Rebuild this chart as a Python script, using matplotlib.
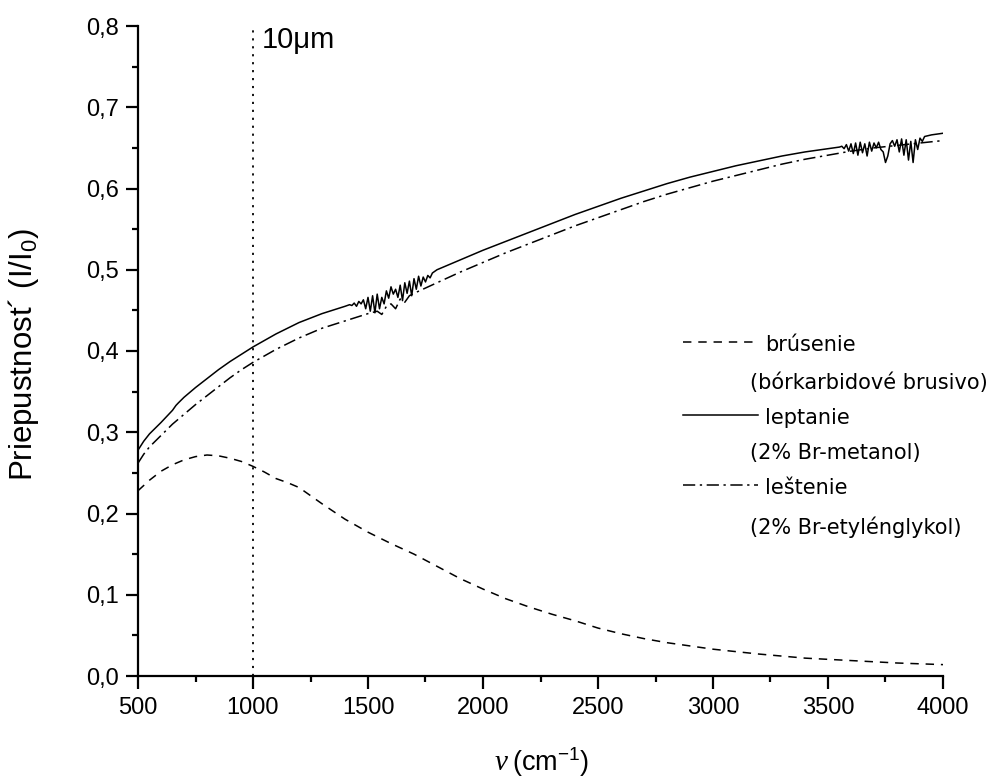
import matplotlib
matplotlib.use("Agg")
import matplotlib.pyplot as plt
from matplotlib.lines import Line2D

# ---- data -------------------------------------------------------------
# brúsenie (ground surface)
nu_brus = [500, 550, 600, 650, 700, 750, 800, 850, 900, 950, 1000, 1050, 1100,
           1150, 1200, 1300, 1400, 1500, 1600, 1700, 1800, 1900, 2000, 2100,
           2200, 2300, 2400, 2500, 2600, 2700, 2800, 2900, 3000, 3200, 3400,
           3600, 3800, 4000]
t_brus = [0.228, 0.241, 0.252, 0.260, 0.266, 0.270, 0.272, 0.271, 0.268, 0.264,
          0.258, 0.251, 0.243, 0.238, 0.232, 0.212, 0.193, 0.177, 0.163, 0.150,
          0.135, 0.120, 0.107, 0.095, 0.085, 0.076, 0.068, 0.059, 0.052, 0.046,
          0.041, 0.037, 0.033, 0.027, 0.022, 0.019, 0.016, 0.014]

# leptanie (etched surface)
nu_lept = [500, 525, 550, 600, 650, 665, 675, 700, 750, 800, 850, 900, 950,
           1000, 1100, 1200, 1300, 1400,
           1420, 1430, 1440, 1450, 1460, 1470, 1480, 1490, 1500, 1510, 1520,
           1530, 1540, 1550, 1560, 1570, 1580, 1590, 1600, 1610, 1620, 1630,
           1640, 1650, 1660, 1670, 1680, 1690, 1700, 1710, 1720, 1730, 1740,
           1750, 1760, 1770, 1780, 1800,
           1900, 2000, 2100, 2200, 2300, 2400, 2500, 2600, 2700, 2800, 2900,
           3000, 3100, 3200, 3300, 3400, 3500,
           3550, 3560, 3570, 3580, 3590, 3600, 3610, 3620, 3630, 3640, 3650,
           3660, 3670, 3680, 3690, 3700, 3710, 3720, 3730, 3740, 3750, 3760,
           3770, 3780, 3790, 3800, 3810, 3820, 3830, 3840, 3850, 3860, 3870,
           3880, 3890, 3900, 3910, 3920, 3950, 4000]
t_lept = [0.278, 0.289, 0.298, 0.312, 0.327, 0.333, 0.336, 0.343, 0.355, 0.366,
          0.377, 0.387, 0.396, 0.405, 0.421, 0.435, 0.446, 0.455,
          0.457, 0.456, 0.459, 0.455, 0.461, 0.458, 0.463, 0.452, 0.466, 0.449,
          0.468, 0.447, 0.470, 0.452, 0.466, 0.458, 0.474, 0.465, 0.479, 0.470,
          0.476, 0.466, 0.481, 0.462, 0.484, 0.471, 0.486, 0.468, 0.489, 0.476,
          0.492, 0.480, 0.491, 0.485, 0.493, 0.490, 0.496, 0.500,
          0.512, 0.524, 0.535, 0.546, 0.557, 0.568, 0.578, 0.588, 0.597, 0.606,
          0.614, 0.621, 0.628, 0.634, 0.640, 0.645, 0.649,
          0.651, 0.652, 0.649, 0.654, 0.646, 0.655, 0.643, 0.656, 0.641, 0.657,
          0.644, 0.655, 0.640, 0.657, 0.646, 0.656, 0.650, 0.657, 0.648, 0.645,
          0.632, 0.640, 0.655, 0.659, 0.652, 0.660, 0.645, 0.661, 0.641, 0.660,
          0.635, 0.658, 0.632, 0.660, 0.648, 0.662, 0.658, 0.664, 0.666, 0.668]

# leštenie (polished surface)
nu_lest = [500, 525, 550, 600, 650, 700, 750, 800, 850, 900, 950, 1000, 1100,
           1200, 1300, 1400, 1500, 1540, 1560, 1580, 1600, 1620, 1640, 1660,
           1680, 1700, 1800, 1900, 2000, 2100, 2200, 2300, 2400, 2500, 2600,
           2700, 2800, 2900, 3000, 3100, 3200, 3300, 3400, 3500, 3600, 3700,
           3800, 3900, 4000]
t_lest = [0.262, 0.273, 0.282, 0.296, 0.310, 0.322, 0.334, 0.345, 0.356, 0.367,
          0.377, 0.386, 0.402, 0.416, 0.428, 0.437, 0.446, 0.449, 0.445, 0.455,
          0.458, 0.452, 0.464, 0.460, 0.468, 0.471, 0.484, 0.497, 0.509, 0.521,
          0.532, 0.543, 0.554, 0.564, 0.574, 0.584, 0.593, 0.601, 0.609, 0.616,
          0.623, 0.630, 0.636, 0.641, 0.646, 0.650, 0.653, 0.656, 0.659]

x_ticks = [500, 1000, 1500, 2000, 2500, 3000, 3500, 4000]
y_ticks = [0.0, 0.1, 0.2, 0.3, 0.4, 0.5, 0.6, 0.7, 0.8]
y_tick_labels = ["0,0", "0,1", "0,2", "0,3", "0,4", "0,5", "0,6", "0,7", "0,8"]
marker_nu = 1000  # 10 µm

legend_rows = [
    ("brúsenie", "(bórkarbidové brusivo)"),
    ("leptanie", "(2% Br-metanol)"),
    ("leštenie", "(2% Br-etylénglykol)"),
]

# ---- figure -----------------------------------------------------------
W, H = 991, 780
plt.rcParams["mathtext.fontset"] = "custom"
plt.rcParams["mathtext.rm"] = "Liberation Sans"
plt.rcParams["mathtext.it"] = "Liberation Sans:italic"
plt.rcParams["mathtext.bf"] = "Liberation Sans:bold"

fig = plt.figure(figsize=(W / 100, H / 100), dpi=100)
ax = fig.add_axes([138 / W, 104 / H, 805 / W, 650 / H])


def fpos(x, y):
    return x / W, 1 - y / H


dash_style = (0, (5.5, 4.5))
dashdot_style = (0, (8, 3, 1.5, 3))
line_kw = dict(color="black", lw=1.1)

ax.plot(nu_brus, t_brus, linestyle=dash_style, **line_kw)
ax.plot(nu_lept, t_lept, linestyle="-", **line_kw)
ax.plot(nu_lest, t_lest, linestyle=dashdot_style, **line_kw)
ax.axvline(marker_nu, color="black", lw=1.3, linestyle=(0, (1.2, 3.2)))

ax.set_xlim(500, 4000)
ax.set_ylim(0.0, 0.8)
ax.set_xticks(x_ticks)
ax.set_xticklabels([str(v) for v in x_ticks])
ax.set_yticks(y_ticks)
ax.set_yticklabels(y_tick_labels)
ax.set_xticks([v + 250 for v in x_ticks[:-1]], minor=True)
ax.set_yticks([v + 0.05 for v in y_ticks[:-1]], minor=True)

for side in ("top", "right"):
    ax.spines[side].set_visible(False)
for side in ("left", "bottom"):
    ax.spines[side].set_linewidth(1.6)

ax.tick_params(which="major", direction="out", length=9, width=1.6,
               labelsize=17)
ax.tick_params(axis="x", which="major", pad=6)
ax.tick_params(axis="y", which="major", pad=5)
ax.tick_params(which="minor", direction="out", length=4.5, width=1.6)
for lab in ax.get_xticklabels() + ax.get_yticklabels():
    lab.set_fontfamily("Liberation Sans")

# axis titles
fig.text(*fpos(24, 354), "Priepustnost´ (I/I$_0$)", rotation=90,
         ha="center", va="center", fontsize=22.5, family="Liberation Sans")
fig.text(*fpos(507, 763), "ν", ha="right", va="center", fontsize=21,
         family="Liberation Serif", style="italic")
fig.text(*fpos(512, 762), "(cm$^{-1}$)", ha="left", va="center",
         fontsize=19.5, family="Liberation Sans")

# 10 µm annotation
ax.text(marker_nu + 38, 0.783, "10μm", ha="left", va="center",
        fontsize=21, family="Liberation Sans")

# legend, drawn by hand
styles = [dash_style, "-", dashdot_style]
row_y = [(342, 383), (415, 453), (485, 527)]
for (name, note), ls, (y1, y2) in zip(legend_rows, styles, row_y):
    x0, y0 = fpos(683, y1)
    x1, _ = fpos(758, y1)
    fig.add_artist(Line2D([x0, x1], [y0, y0], transform=fig.transFigure,
                          linestyle=ls, **line_kw))
    fig.text(*fpos(765, y1 + 3), name, ha="left", va="center",
             fontsize=15, family="DejaVu Sans")
    fig.text(*fpos(750, y2), note, ha="left", va="center",
             fontsize=15, family="DejaVu Sans")

fig.savefig("out.png", dpi=100)
